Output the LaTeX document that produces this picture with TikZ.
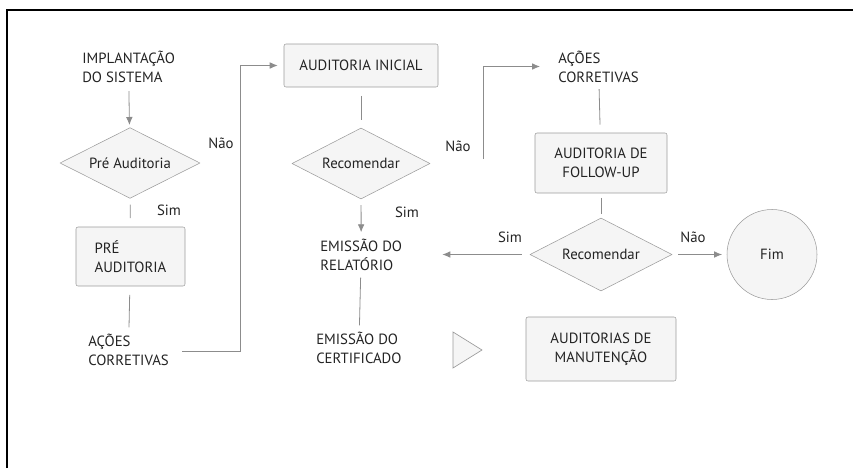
\documentclass[tikz,border=0pt]{standalone}
\usepackage{fontspec}
\setmainfont{PT Sans}
\usetikzlibrary{shapes.geometric, arrows.meta}
\definecolor{boxgray}{RGB}{155,155,155}
\definecolor{boxfill}{RGB}{245,245,245}
\definecolor{linegray}{RGB}{140,140,140}
\definecolor{txtgray}{RGB}{35,35,35}

\begin{document}
\begin{tikzpicture}[x=0.75pt, y=-0.75pt,
  every node/.style={font=\fontsize{11.1}{14.25}\selectfont, text=txtgray},
  txt/.style={inner sep=0pt, align=left},
  lbl/.style={inner sep=0pt},
  stepbox/.style={draw=boxgray, fill=boxfill, rounded corners=1.5pt, inner sep=0pt},
  decision/.style={diamond, draw=boxgray, fill=boxfill, aspect=2, inner sep=0pt},
  flow/.style={draw=linegray, line width=0.6pt},
  arr/.style={flow, -{Latex[length=6pt,width=5pt]}}
]
\useasboundingbox (0,0) rectangle (853,468);

%The frame:
\draw[line width=1.5pt] (7,468) -- (7,10) -- (853,10);

%Left column:
\node[txt, anchor=west] (impl) at (82,67) {IMPLANTAÇÃO\\DO SISTEMA};
\node[decision, minimum width=105pt, minimum height=53pt] (pre) at (130,163) {Pré Auditoria};
\node[stepbox, align=left, minimum width=81.75pt, minimum height=44.25pt] (prebox) at (130.5,256.5) {PRÉ\\AUDITORIA};
\node[txt, anchor=west] (acoes1) at (88,350) {AÇÕES\\CORRETIVAS};
\coordinate (bend1) at (240,351);

%Middle column:
\node[stepbox, minimum width=115.5pt, minimum height=32.25pt] (ini) at (361,65.5) {AUDITORIA INICIAL};
\node[decision, minimum width=103.5pt, minimum height=53.25pt] (rec1) at (361,163.5) {Recomendar};
\node[txt, anchor=west] (rel) at (320,255) {EMISSÃO DO\\RELATÓRIO};
\node[txt, anchor=west] (cert) at (316,348) {EMISSÃO DO\\CERTIFICADO};
\filldraw[draw=boxgray, fill=boxfill, line width=0.5pt] (453,332) -- (482,350) -- (453,368) -- cycle;
\node[stepbox, align=center, minimum width=112.5pt, minimum height=48pt] (manut) at (601,349) {AUDITORIAS DE\\MANUTENÇÃO};

%Right column:
\node[txt, anchor=west] (acoes2) at (558,66.5) {AÇÕES\\CORRETIVAS};
\coordinate (bend2) at (483,159);
\node[stepbox, align=center, minimum width=99pt, minimum height=45pt] (follow) at (601,163) {AUDITORIA DE\\FOLLOW-UP};
\node[decision, minimum width=106.5pt, minimum height=54.75pt] (rec2) at (601,254.5) {Recomendar};
\node[circle, draw=boxgray, fill=boxfill, minimum size=67.5pt, inner sep=0pt] (fim) at (772,254.5) {Fim};

%Connectors:
\draw[arr, shorten <=6pt, shorten >=2pt] (impl) -- (pre);
\draw[flow, shorten <=4.5pt, shorten >=6.5pt] (pre) -- (prebox);
\draw[flow, shorten <=6.5pt, shorten >=5pt] (prebox) -- (acoes1);
\draw[arr, shorten <=10pt, shorten >=4.5pt] (acoes1.east |- bend1) -- (bend1) |- (ini.west);
\draw[flow, shorten <=6.5pt, shorten >=6pt] (ini) -- (rec1);
\draw[arr, shorten <=4.5pt, shorten >=5pt] (rec1) -- (rel);
\draw[flow, shorten <=5pt, shorten >=5pt] (rel) -- (cert);
\draw[arr, shorten >=13.5pt] (bend2) |- (acoes2.west);
\draw[flow, shorten <=5pt, shorten >=6pt] (acoes2) -- (follow);
\draw[flow, shorten <=3.5pt, shorten >=3pt] (follow) -- (rec2);
\draw[arr, shorten <=6pt, shorten >=30pt] (rec2.west) -- (rec2.west -| rel.east);
\draw[arr, shorten <=4.5pt, shorten >=3.5pt] (rec2.east) -- (rec2.east -| fim.west);

%Labels:
\node[lbl] (nao1) at (221,143) {Não};
\node[lbl] (sim1) at (169,210) {Sim};
\node[lbl] (sim2) at (407,212) {Sim};
\node[lbl] (nao2) at (458,146) {Não};
\node[lbl] (sim3) at (510,237) {Sim};
\node[lbl] (nao3) at (693,237) {Não};

\end{tikzpicture}
\end{document}
